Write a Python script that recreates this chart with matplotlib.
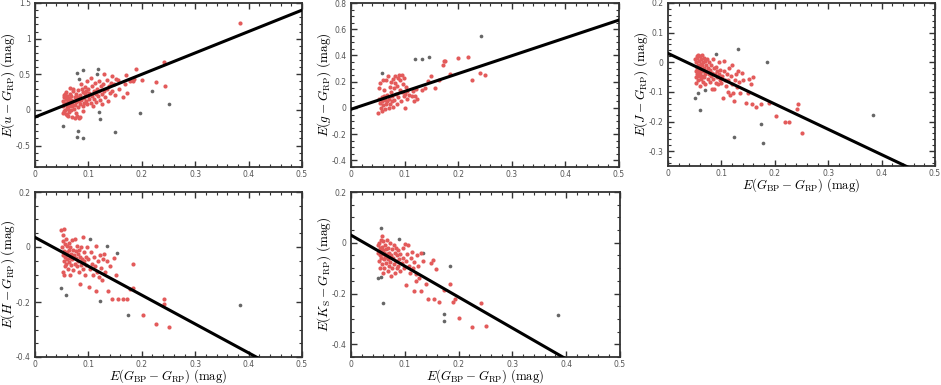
import matplotlib
matplotlib.use('Agg')
import matplotlib.pyplot as plt
from matplotlib.ticker import MultipleLocator, AutoMinorLocator, FuncFormatter

plt.rcParams['mathtext.fontset'] = 'cm'
plt.rcParams['axes.unicode_minus'] = False

RED = '#e35b5b'
GRAY = '#666666'

# --- E(u - G_RP) ---
u_red_x = [0.052, 0.053, 0.054, 0.055, 0.055, 0.056, 0.057, 0.057, 0.058, 0.058, 0.059, 0.060, 0.060, 0.061,
           0.062, 0.062, 0.063, 0.064, 0.064, 0.065, 0.066, 0.067, 0.067, 0.068, 0.069, 0.070, 0.070, 0.071,
           0.072, 0.073, 0.074, 0.075, 0.075, 0.076, 0.077, 0.078, 0.079, 0.080, 0.080, 0.081, 0.082, 0.083,
           0.084, 0.085, 0.086, 0.087, 0.088, 0.089, 0.090, 0.091, 0.092, 0.093, 0.094, 0.095, 0.096, 0.097,
           0.098, 0.099, 0.100, 0.101, 0.102, 0.104, 0.105, 0.106, 0.107, 0.108, 0.110, 0.111, 0.112, 0.114,
           0.115, 0.116, 0.118, 0.119, 0.120, 0.122, 0.123, 0.125, 0.126, 0.128, 0.129, 0.130, 0.132, 0.134,
           0.135, 0.137, 0.138, 0.140, 0.142, 0.144, 0.145, 0.148, 0.150, 0.152, 0.155, 0.158, 0.164, 0.168,
           0.170, 0.173, 0.178, 0.184, 0.186, 0.189, 0.200, 0.226, 0.241, 0.243, 0.384,
           0.053, 0.060, 0.058, 0.054, 0.066, 0.072, 0.076, 0.085, 0.090]
u_red_y = [0.05, 0.12, -0.02, 0.18, 0.08, 0.00, 0.22, 0.10, -0.05, 0.15, 0.03, 0.20, 0.07, -0.08,
           0.12, 0.02, 0.17, 0.06, -0.03, 0.23, 0.10, 0.00, 0.14, 0.19, 0.05, -0.10, 0.09, 0.26,
           0.13, 0.02, 0.18, -0.11, 0.07, 0.22, 0.11, 0.15, -0.09, 0.04, 0.28, 0.18, -0.11, 0.12,
           0.08, 0.21, 0.37, 0.14, 0.30, 0.05, 0.25, 0.17, 0.10, 0.32, 0.22, 0.13, 0.27, 0.08,
           0.40, 0.19, 0.30, 0.15, 0.24, 0.10, 0.45, 0.33, 0.20, 0.06, 0.27, 0.16, 0.38, 0.23,
           0.11, 0.30, 0.19, 0.41, 0.26, 0.14, 0.33, 0.22, 0.08, 0.36, 0.50, 0.27, 0.18, 0.42,
           0.30, 0.12, 0.34, 0.24, 0.38, 0.48, 0.27, 0.37, 0.21, 0.44, 0.42, 0.30, 0.18, 0.37,
           0.49, 0.24, 0.41, 0.40, 0.43, 0.57, 0.42, 0.39, 0.67, 0.34, 1.22,
           -0.04, -0.07, 0.25, 0.21, 0.31, 0.30, -0.04, -0.10, -0.02]
u_gray_x = [0.053, 0.078, 0.089, 0.082, 0.116, 0.118, 0.078, 0.081, 0.089, 0.119, 0.122, 0.149, 0.196, 0.220, 0.251]
u_gray_y = [-0.23, 0.52, 0.56, 0.43, 0.51, 0.58, -0.38, -0.29, -0.39, -0.03, -0.13, -0.31, -0.04, 0.27, 0.08]
u_fit = (-0.10, 3.00)

# --- E(g - G_RP) ---
g_red_x = [0.051, 0.052, 0.053, 0.054, 0.055, 0.056, 0.057, 0.058, 0.058, 0.059, 0.060, 0.061, 0.062, 0.063,
           0.064, 0.065, 0.066, 0.067, 0.068, 0.069, 0.070, 0.071, 0.072, 0.073, 0.074, 0.075, 0.076, 0.077,
           0.078, 0.079, 0.080, 0.081, 0.082, 0.083, 0.084, 0.085, 0.086, 0.087, 0.088, 0.090, 0.091, 0.092,
           0.093, 0.095, 0.096, 0.097, 0.098, 0.099, 0.100, 0.101, 0.102, 0.104, 0.105, 0.108, 0.113, 0.115,
           0.118, 0.120, 0.122, 0.124, 0.133, 0.138, 0.144, 0.150, 0.157, 0.165, 0.172, 0.174, 0.176, 0.184,
           0.200, 0.219, 0.226, 0.241, 0.250]
g_red_y = [-0.035, 0.07, 0.15, 0.04, 0.19, 0.00, 0.08, -0.02, 0.05, 0.21, 0.02, 0.09, 0.14, 0.06,
           -0.01, 0.21, 0.03, 0.10, 0.05, 0.24, 0.00, 0.07, 0.16, 0.03, 0.12, 0.20, 0.05, 0.09,
           0.22, 0.01, 0.15, 0.06, 0.19, 0.24, 0.11, 0.17, 0.03, 0.23, 0.08, 0.25, 0.14, 0.21,
           0.05, 0.25, 0.12, 0.18, 0.09, 0.23, 0.00, 0.11, 0.16, 0.07, 0.13, 0.10, 0.09, 0.13,
           0.05, 0.09, 0.145, 0.07, 0.135, 0.15, 0.205, 0.245, 0.15, 0.21, 0.33, 0.355, 0.36, 0.26,
           0.38, 0.39, 0.21, 0.27, 0.255]
g_gray_x = [0.057, 0.120, 0.132, 0.145, 0.243]
g_gray_y = [0.266, 0.37, 0.375, 0.39, 0.545]
g_fit = (-0.01, 1.36)

# --- E(J - G_RP) ---
j_red_x = [0.051, 0.052, 0.052, 0.053, 0.053, 0.054, 0.054, 0.055, 0.055, 0.056, 0.056, 0.057, 0.057, 0.058,
           0.058, 0.059, 0.059, 0.060, 0.060, 0.061, 0.061, 0.062, 0.062, 0.063, 0.063, 0.064, 0.065, 0.065,
           0.066, 0.067, 0.067, 0.068, 0.069, 0.070, 0.070, 0.071, 0.072, 0.073, 0.074, 0.075, 0.076, 0.077,
           0.078, 0.079, 0.080, 0.081, 0.082, 0.083, 0.084, 0.085, 0.086, 0.087, 0.088, 0.089, 0.090, 0.091,
           0.092, 0.094, 0.095, 0.096, 0.097, 0.098, 0.100, 0.101, 0.103, 0.104, 0.105, 0.106, 0.108, 0.110,
           0.112, 0.113, 0.115, 0.116, 0.118, 0.120, 0.120, 0.122, 0.124, 0.126, 0.128, 0.130, 0.132, 0.133,
           0.135, 0.138, 0.140, 0.146, 0.150, 0.152, 0.155, 0.157, 0.160, 0.165, 0.175, 0.189, 0.2025, 0.219,
           0.226, 0.242, 0.243, 0.251]
j_red_y = [0.01, -0.03, -0.05, 0.00, -0.07, 0.02, -0.02, -0.04, 0.015, -0.01, -0.06, 0.025, -0.03, 0.005,
           -0.045, -0.015, -0.08, 0.02, -0.035, -0.005, -0.055, 0.01, -0.025, -0.045, 0.025, -0.01, -0.065, 0.00,
           -0.03, 0.015, -0.05, -0.02, 0.005, -0.04, -0.075, -0.01, -0.03, 0.01, -0.055, -0.02, -0.04, 0.00,
           -0.065, -0.025, -0.045, -0.01, -0.09, -0.035, 0.01, -0.055, -0.02, -0.091, -0.04, -0.07, -0.015, -0.05,
           -0.03, -0.075, -0.04, 0.00, -0.06, -0.025, -0.07, -0.045, -0.122, -0.03, 0.004, -0.06, -0.08, -0.04,
           -0.10, -0.06, -0.02, -0.11, -0.045, -0.008, -0.075, -0.105, -0.129, -0.06, -0.04, -0.085, -0.03, -0.065,
           -0.102, -0.035, -0.06, -0.138, -0.103, -0.056, -0.075, -0.142, -0.049, -0.152, -0.142, -0.137, -0.181, -0.20,
           -0.20, -0.158, -0.142, -0.238]
j_gray_x = [0.050, 0.057, 0.059, 0.069, 0.090, 0.132, 0.186, 0.123, 0.174, 0.178, 0.384]
j_gray_y = [-0.121, -0.105, -0.16, -0.093, 0.028, 0.046, 0.002, -0.252, -0.209, -0.272, -0.177]
j_fit = (0.03, -0.854)

# --- E(H - G_RP) ---
h_red_x = [0.049, 0.055, 0.053, 0.051, 0.052, 0.052, 0.053, 0.054, 0.054, 0.055, 0.056, 0.056, 0.057, 0.058,
           0.058, 0.059, 0.060, 0.060, 0.061, 0.062, 0.063, 0.063, 0.064, 0.065, 0.066, 0.066, 0.067, 0.068,
           0.069, 0.070, 0.071, 0.072, 0.073, 0.074, 0.075, 0.076, 0.077, 0.078, 0.079, 0.080, 0.081, 0.082,
           0.083, 0.084, 0.085, 0.086, 0.087, 0.088, 0.089, 0.090, 0.091, 0.092, 0.094, 0.095, 0.096, 0.098,
           0.100, 0.102, 0.103, 0.104, 0.106, 0.108, 0.110, 0.112, 0.114, 0.115, 0.116, 0.118, 0.120, 0.122,
           0.124, 0.126, 0.128, 0.130, 0.132, 0.134, 0.136, 0.140, 0.144, 0.148, 0.152, 0.156, 0.164, 0.173,
           0.177, 0.184, 0.184, 0.202, 0.226, 0.241, 0.242, 0.251]
h_red_y = [0.063, 0.065, 0.042, 0.00, -0.03, -0.09, 0.02, -0.05, -0.10, -0.015, 0.01, -0.07, -0.035, 0.03,
           -0.06, -0.02, -0.045, 0.005, -0.08, -0.03, 0.015, -0.055, -0.01, -0.04, -0.10, 0.00, -0.065, -0.025,
           0.025, -0.045, -0.01, -0.085, -0.03, 0.03, -0.06, -0.015, -0.04, 0.005, -0.07, -0.025, -0.05, -0.01,
           -0.09, -0.135, -0.035, 0.00, -0.065, -0.045, 0.035, -0.08, -0.02, -0.05, -0.10, -0.035, -0.065, 0.00,
           -0.045, -0.147, -0.08, -0.02, -0.06, -0.10, -0.035, -0.07, 0.005, -0.161, -0.09, -0.05, -0.11, -0.03,
           -0.075, -0.12, -0.045, -0.025, -0.09, -0.05, -0.16, -0.07, -0.188, -0.04, -0.10, -0.188, -0.188, -0.188,
           -0.154, -0.148, -0.061, -0.247, -0.279, -0.206, -0.19, -0.29]
h_gray_x = [0.049, 0.0575, 0.103, 0.134, 0.153, 0.122, 0.174, 0.384]
h_gray_y = [-0.148, -0.175, 0.03, 0.005, -0.022, -0.195, -0.246, -0.212]
h_fit = (0.035, -1.05)

# --- E(Ks - G_RP) ---
k_red_x = [0.050, 0.051, 0.052, 0.052, 0.053, 0.054, 0.054, 0.055, 0.055, 0.056, 0.057, 0.057, 0.058, 0.058,
           0.059, 0.060, 0.060, 0.061, 0.062, 0.062, 0.063, 0.064, 0.065, 0.065, 0.066, 0.067, 0.068, 0.068,
           0.069, 0.070, 0.071, 0.072, 0.073, 0.074, 0.075, 0.076, 0.077, 0.078, 0.079, 0.080, 0.081, 0.082,
           0.083, 0.084, 0.085, 0.086, 0.087, 0.088, 0.090, 0.091, 0.092, 0.094, 0.096, 0.097, 0.099, 0.100,
           0.102, 0.103, 0.105, 0.106, 0.108, 0.110, 0.112, 0.114, 0.116, 0.117, 0.118, 0.120, 0.121, 0.123,
           0.125, 0.127, 0.130, 0.131, 0.134, 0.139, 0.144, 0.149, 0.153, 0.155, 0.158, 0.164, 0.172, 0.184,
           0.189, 0.194, 0.201, 0.225, 0.242, 0.251]
k_red_y = [-0.01, -0.04, -0.07, 0.00, -0.02, -0.05, -0.10, 0.01, -0.03, -0.06, 0.025, -0.085, -0.015, -0.045,
           -0.12, -0.03, 0.005, -0.065, -0.04, -0.10, -0.01, -0.055, -0.08, -0.025, 0.01, -0.045, -0.11, -0.065,
           -0.02, -0.09, -0.04, 0.00, -0.075, -0.13, -0.05, -0.025, -0.10, -0.06, -0.01, -0.085, -0.04, -0.12,
           -0.07, -0.02, -0.10, -0.05, -0.09, -0.03, -0.065, -0.11, -0.045, -0.08, -0.02, -0.06, -0.10, -0.005,
           -0.166, -0.07, -0.045, -0.008, -0.09, -0.12, -0.06, -0.035, -0.10, -0.191, -0.075, -0.15, -0.122, -0.05,
           -0.09, -0.14, -0.189, -0.04, -0.07, -0.163, -0.22, -0.081, -0.067, -0.223, -0.102, -0.234, -0.186, -0.163,
           -0.234, -0.223, -0.295, -0.332, -0.239, -0.328]
k_gray_x = [0.056, 0.090, 0.134, 0.051, 0.055, 0.059, 0.184, 0.173, 0.173, 0.384]
k_gray_y = [0.058, 0.016, -0.04, -0.138, -0.134, -0.238, -0.093, -0.28, -0.309, -0.283]
k_fit = (0.03, -1.22)

panels = [
    (u_red_x, u_red_y, u_gray_x, u_gray_y, u_fit, r'$E(u-G_{\rm RP})\ ({\rm mag})$', (-0.8, 1.5), 0.5, False),
    (g_red_x, g_red_y, g_gray_x, g_gray_y, g_fit, r'$E(g-G_{\rm RP})\ ({\rm mag})$', (-0.45, 0.8), 0.2, False),
    (j_red_x, j_red_y, j_gray_x, j_gray_y, j_fit, r'$E(J-G_{\rm RP})\ ({\rm mag})$', (-0.35, 0.2), 0.1, True),
    (h_red_x, h_red_y, h_gray_x, h_gray_y, h_fit, r'$E(H-G_{\rm RP})\ ({\rm mag})$', (-0.4, 0.2), 0.2, True),
    (k_red_x, k_red_y, k_gray_x, k_gray_y, k_fit, r'$E(K_{\rm S}-G_{\rm RP})\ ({\rm mag})$', (-0.45, 0.2), 0.2, True),
]

# axes boxes in pixels: left, top, right, bottom
boxes = [(35, 3, 302, 167), (351, 3, 619, 167), (668, 3, 935, 166),
         (35, 192, 302, 357), (351, 192, 620, 357)]

W, H = 941, 385
fig = plt.figure(figsize=(W / 100, H / 100), dpi=100)

fmt = FuncFormatter(lambda v, p: '%g' % round(v, 3))

for (rx, ry, gx, gy, fit, ylab, ylim, ystep, xlab), (l, t, r, b) in zip(panels, boxes):
    ax = fig.add_axes([l / W, 1 - b / H, (r - l) / W, (b - t) / H])
    ax.scatter(gx, gy, s=7, color=GRAY, linewidths=0, zorder=2)
    ax.scatter(rx, ry, s=9, color=RED, linewidths=0, zorder=3)
    ax.plot([0, 0.5], [fit[0], fit[0] + fit[1] * 0.5], color='black', lw=2.2, zorder=4)
    ax.set_xlim(0, 0.5)
    ax.set_ylim(*ylim)
    ax.xaxis.set_major_locator(MultipleLocator(0.1))
    ax.yaxis.set_major_locator(MultipleLocator(ystep))
    ax.xaxis.set_minor_locator(AutoMinorLocator(5))
    ax.yaxis.set_minor_locator(AutoMinorLocator(5 if ystep != 0.2 else 4))
    ax.xaxis.set_major_formatter(fmt)
    ax.yaxis.set_major_formatter(fmt)
    ax.tick_params(which='both', direction='in', top=True, right=True, colors='#333333',
                   labelcolor='#555555', labelsize=5.5)
    ax.tick_params(axis='x', pad=2)
    ax.tick_params(axis='y', pad=3)
    ax.tick_params(which='major', length=4, width=1)
    ax.tick_params(which='minor', length=2, width=0.8)
    for s in ax.spines.values():
        s.set_linewidth(1.3)
        s.set_color('#333333')
    ax.set_ylabel(ylab, fontsize=9.5, va='center')
    ax.yaxis.set_label_coords(-27 / (r - l), 0.5)
    if xlab:
        ax.set_xlabel(r'$E(G_{\rm BP}-G_{\rm RP})\ ({\rm mag})$', fontsize=9.2, va='center')
        ax.xaxis.set_label_coords(0.5, -19.5 / (b - t))

fig.savefig('out.png', dpi=100)
